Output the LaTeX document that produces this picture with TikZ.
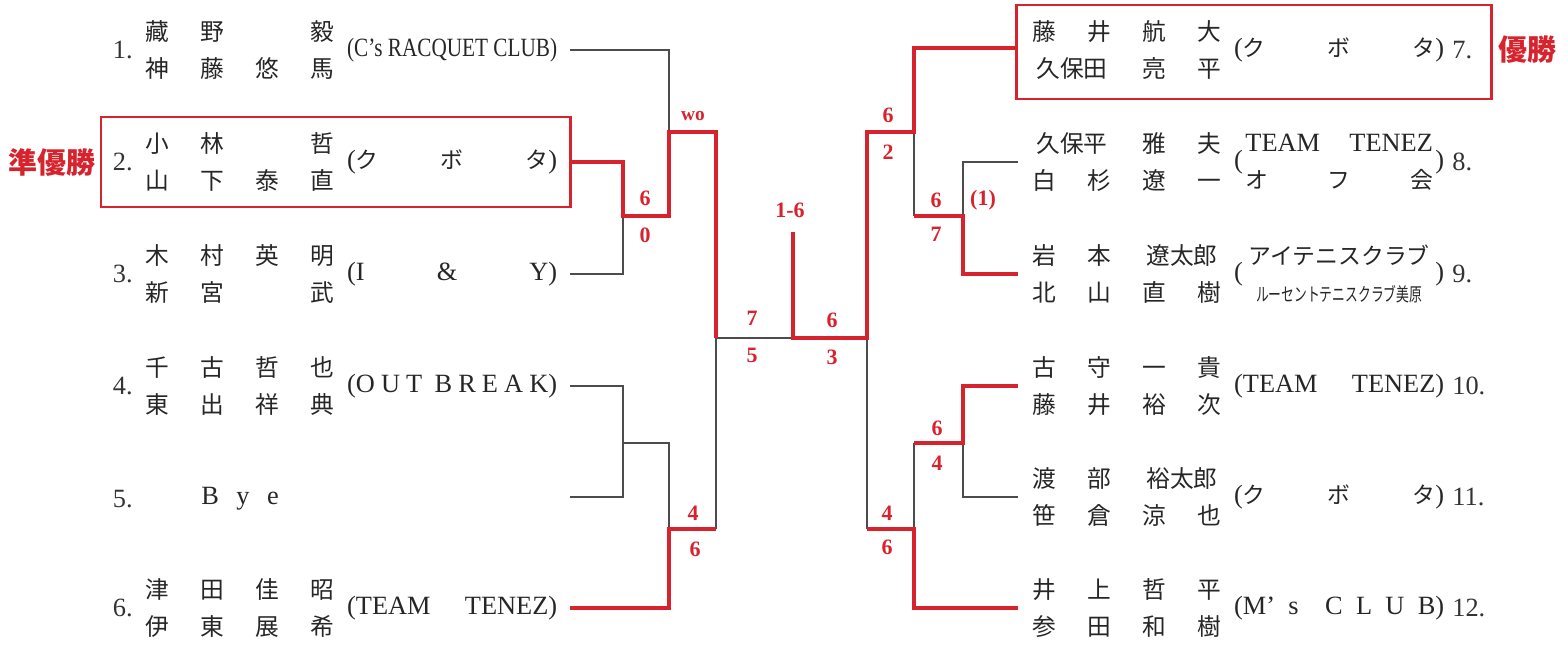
\documentclass[tikz,border=0pt]{standalone}
\usepackage{fontspec}
\usepackage{graphicx}
\setmainfont{Liberation Serif}
\newfontfamily\jp{Noto Sans CJK JP}
\usetikzlibrary{calc,positioning}
\definecolor{winred}{RGB}{215,35,45}
\tikzset{winline/.style={winred,line width=2.5pt},loseline/.style={black!70,line width=0.8pt}}
\newcommand{\ch}[1]{\makebox[1.1cm]{#1}}
\newcommand{\chh}[1]{\makebox[2.2cm]{#1}}
\newcommand{\jc}[1]{{\jp\fontsize{13}{21}\selectfont #1}}
\newcommand{\club}[1]{\makebox[4.2cm][s]{#1}}
\newcommand{\kubota}{\club{(\jc{ク}\hfill\jc{ボ}\hfill\jc{タ})}}

\begin{document}
\begin{tikzpicture}[x=0.02cm,y=-0.02cm]

\tikzset{names/.style={font=\jp\fontsize{13.5}{21}\selectfont,text=black!85,align=center,inner sep=0pt},
clubtext/.style={font=\fontsize{15}{21}\selectfont,text=black!85,inner sep=0pt},
num/.style={font=\fontsize{15}{18}\selectfont,text=black!80,inner sep=0pt},
score/.style={font=\bfseries\fontsize{12.5}{14}\selectfont,text=winred,inner sep=0pt},
redbox/.style={draw=winred,line width=1.7pt},
place/.style={font=\jp\bfseries\fontsize{16.5}{18}\selectfont,text=winred,inner sep=0pt}}

\useasboundingbox (0,0) rectangle (1568,646);

% Left half
\node[names] (n1) at (240,50) {\ch{藏}\ch{野}\ch{}\ch{毅}\\\ch{神}\ch{藤}\ch{悠}\ch{馬}};
\node[names] (n2) at (240,162) {\ch{小}\ch{林}\ch{}\ch{哲}\\\ch{山}\ch{下}\ch{泰}\ch{直}};
\node[names] (n3) at (240,274) {\ch{木}\ch{村}\ch{英}\ch{明}\\\ch{新}\ch{宮}\ch{}\ch{武}};
\node[names] (n4) at (240,386) {\ch{千}\ch{古}\ch{哲}\ch{也}\\\ch{東}\ch{出}\ch{祥}\ch{典}};
\node[names,font=\fontsize{15}{18}\selectfont] (n5) at (240,499) {B\hspace{0.35cm}y\hspace{0.35cm}e};
\node[names] (n6) at (240,608) {\ch{津}\ch{田}\ch{佳}\ch{昭}\\\ch{伊}\ch{東}\ch{展}\ch{希}};

\node[clubtext,right=-2pt of n1] (c1) {\resizebox{4.2cm}{\height}{(C's RACQUET CLUB)}};
\node[clubtext,right=-2pt of n2] (c2) {\kubota};
\node[clubtext,right=-2pt of n3] (c3) {\club{(I\hfill\&\hfill Y)}};
\node[clubtext,right=-2pt of n4] (c4) {\club{(O\hfill U\hfill T\hfill\hfill B\hfill R\hfill E\hfill A\hfill K)}};
\node[clubtext,right=-2pt of n6] (c6) {\club{(TEAM\hfill TENEZ)}};

% Right half
\node[names] (n7) at (1127,50) {\ch{藤}\ch{井}\ch{航}\ch{大}\\\chh{久保田}\ch{亮}\ch{平}};
\node[names] (n8) at (1127,162) {\chh{久保平}\ch{雅}\ch{夫}\\\ch{白}\ch{杉}\ch{遼}\ch{一}};
\node[names] (n9) at (1127,274) {\ch{岩}\ch{本}\chh{遼太郎}\\\ch{北}\ch{山}\ch{直}\ch{樹}};
\node[names] (n10) at (1127,386) {\ch{古}\ch{守}\ch{一}\ch{貴}\\\ch{藤}\ch{井}\ch{裕}\ch{次}};
\node[names] (n11) at (1127,497) {\ch{渡}\ch{部}\chh{裕太郎}\\\ch{笹}\ch{倉}\ch{涼}\ch{也}};
\node[names] (n12) at (1127,608) {\ch{井}\ch{上}\ch{哲}\ch{平}\\\ch{参}\ch{田}\ch{和}\ch{樹}};

\node[clubtext,right=-2pt of n7] (c7) {\kubota};
\node[clubtext,right=-2pt of n8] (c8) {\club{(\hfill\parbox[c]{3.75cm}{\makebox[3.75cm][s]{TEAM\hfill TENEZ}\\\makebox[3.75cm][s]{\jc{オ}\hfill\jc{フ}\hfill\jc{会}}}\hfill)}};
\node[clubtext,right=-2pt of n9] (c9) {\club{(\hfill\parbox[c]{3.75cm}{\centering\jc{アイテニスクラブ}\\\scalebox{0.56}[0.82]{\jc{ルーセントテニスクラブ美原}}}\hfill)}};
\node[clubtext,right=-2pt of n10] (c10) {\club{(TEAM\hfill TENEZ)}};
\node[clubtext,right=-2pt of n11] (c11) {\kubota};
\node[clubtext,right=-2pt of n12] (c12) {\club{(M'\hfill s\hfill\hfill C\hfill L\hfill U\hfill B)}};

% Draw numbers
\foreach \i/\y in {1/50,2/162,3/274,4/386,5/499,6/608} \node[num,anchor=east] (k\i) at (133,\y) {\i.};
\foreach \i/\y in {7/50,8/162,9/274,10/386,11/497,12/608} \node[num,anchor=west] (k\i) at (1452,\y) {\i.};

% Bracket points
\foreach \i/\y in {1/50,2/162,3/274,4/386,5/497,6/608} \coordinate (e\i) at (570,\y);
\foreach \i/\y in {7/48,8/162,9/274,10/386,11/497,12/608} \coordinate (e\i) at (1018,\y);
\coordinate (a23) at (623,216);
\coordinate (a45) at (623,443);
\coordinate (b1) at (669,132);
\coordinate (b6) at (669,529);
\coordinate (sL) at (716,338);
\coordinate (champ) at (793,232);
\coordinate (sR) at (867,338);
\coordinate (b7) at (914,132);
\coordinate (b12) at (914,529);
\coordinate (a89) at (963,216);
\coordinate (a1011) at (963,443);

% Lost lines
\draw[loseline] (e1) -| (b1);
\draw[loseline] (e3) -| (a23);
\draw[loseline] (e4) -| (a45) |- (e5);
\draw[loseline] (a45) -| (b6);
\draw[loseline] (b6 -| sL) -- (sL) -- (sL -| champ);
\draw[loseline] (b7) -- (b7 |- a89);
\draw[loseline] (a89) |- (e8);
\draw[loseline] (sR) -- (sR |- b12);
\draw[loseline] (b12) -- (b12 |- a1011);
\draw[loseline] (a1011) |- (e11);

% Winning lines
\draw[winline] (e2) -| (a23) -- (a23 -| b1) -- (b1) -| (sL);
\draw[winline] (e6) -| (b6) -- (b6 -| sL);
\draw[winline] (champ) |- (sR) |- (b7) |- (e7);
\draw[winline] (b7 |- a89) -- (a89) |- (e9);
\draw[winline] (sR |- b12) -- (b12) |- (e12);
\draw[winline] (b12 |- a1011) -- (a1011) |- (e10);

% Winners
\draw[redbox] (101,117) rectangle (570,207);
\draw[redbox] (1016,5) rectangle (1491,99);
\node[place] (second) at (52,162) {準優勝};
\node[place] (first) at (1527,50) {優勝};

% Scores
\foreach \x/\y/\s [count=\i] in {645/198/6,645/235/0,693/513/4,695/549/6,752/318/7,752/355/5,832/320/6,832/357/3,888/115/6,888/152/2,936/200/6,936/234/7,937/428/6,937/463/4,887/513/4,887/547/6}
  \node[score] (sc\i) at (\x,\y) {\s};
\node[score,font=\bfseries\fontsize{11}{12}\selectfont] (wo) at (693,116) {wo};
\node[score] (fin) at (790,210) {1-6};
\node[score] (ret) at (983,200) {(1)};

\end{tikzpicture}
\end{document}
